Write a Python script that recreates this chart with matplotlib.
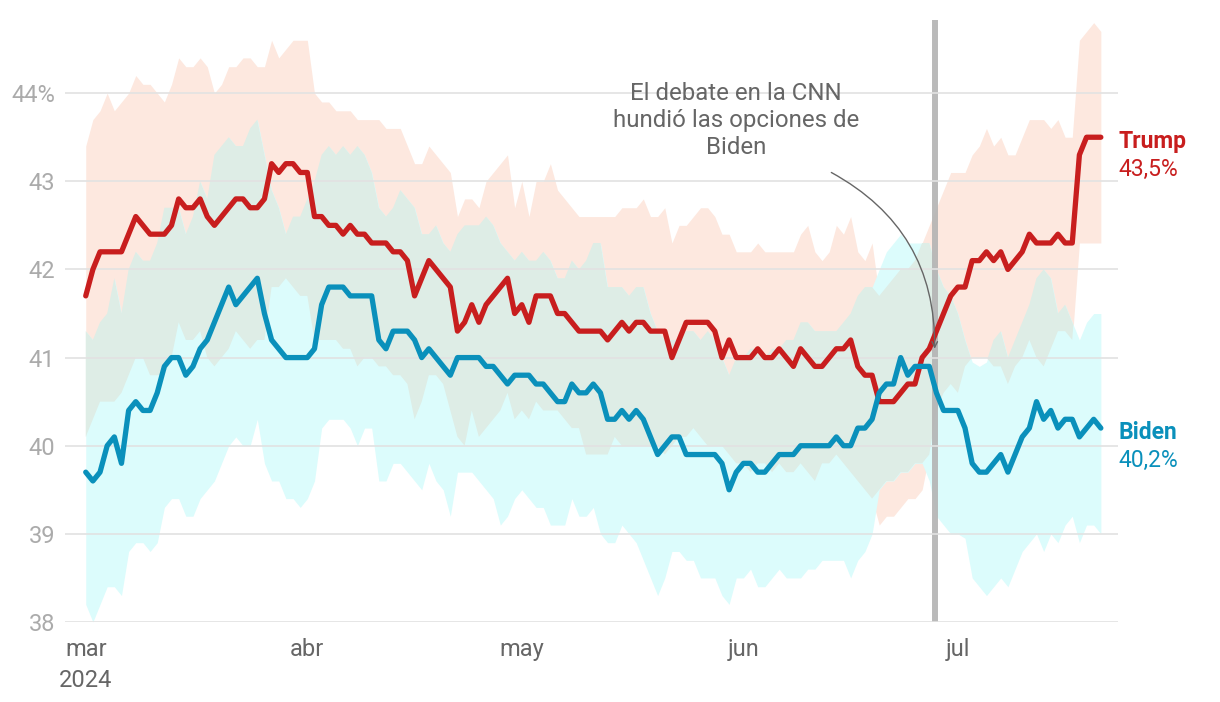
import pandas as pd
import numpy as np
import matplotlib
matplotlib.use('Agg')
import matplotlib.pyplot as plt

plt.rcParams['font.family'] = ['Roboto', 'DejaVu Sans']

# Daily polling average, 1 Mar - 21 Jul 2024
dates = pd.date_range('2024-03-01', '2024-07-21', freq='D')

trump = [41.7, 42.0, 42.2, 42.2, 42.2, 42.2, 42.4, 42.6, 42.5, 42.4,
         42.4, 42.4, 42.5, 42.8, 42.7, 42.7, 42.8, 42.6, 42.5, 42.6,
         42.7, 42.8, 42.8, 42.7, 42.7, 42.8, 43.2, 43.1, 43.2, 43.2,
         43.1, 43.1, 42.6, 42.6, 42.5, 42.5, 42.4, 42.5, 42.4, 42.4,
         42.3, 42.3, 42.3, 42.2, 42.2, 42.1, 41.7, 41.9, 42.1, 42.0,
         41.9, 41.8, 41.3, 41.4, 41.6, 41.4, 41.6, 41.7, 41.8, 41.9,
         41.5, 41.6, 41.4, 41.7, 41.7, 41.7, 41.5, 41.5, 41.4, 41.3,
         41.3, 41.3, 41.3, 41.2, 41.3, 41.4, 41.3, 41.4, 41.4, 41.3,
         41.3, 41.3, 41.0, 41.2, 41.4, 41.4, 41.4, 41.4, 41.3, 41.0,
         41.2, 41.0, 41.0, 41.0, 41.1, 41.0, 41.0, 41.1, 41.0, 40.9,
         41.1, 41.0, 40.9, 40.9, 41.0, 41.1, 41.1, 41.2, 40.9, 40.8,
         40.8, 40.5, 40.5, 40.5, 40.6, 40.7, 40.7, 41.0, 41.1, 41.3,
         41.5, 41.7, 41.8, 41.8, 42.1, 42.1, 42.2, 42.1, 42.2, 42.0,
         42.1, 42.2, 42.4, 42.3, 42.3, 42.3, 42.4, 42.3, 42.3, 43.3,
         43.5, 43.5, 43.5]

biden = [39.7, 39.6, 39.7, 40.0, 40.1, 39.8, 40.4, 40.5, 40.4, 40.4,
         40.6, 40.9, 41.0, 41.0, 40.8, 40.9, 41.1, 41.2, 41.4, 41.6,
         41.8, 41.6, 41.7, 41.8, 41.9, 41.5, 41.2, 41.1, 41.0, 41.0,
         41.0, 41.0, 41.1, 41.6, 41.8, 41.8, 41.8, 41.7, 41.7, 41.7,
         41.7, 41.2, 41.1, 41.3, 41.3, 41.3, 41.2, 41.0, 41.1, 41.0,
         40.9, 40.8, 41.0, 41.0, 41.0, 41.0, 40.9, 40.9, 40.8, 40.7,
         40.8, 40.8, 40.8, 40.7, 40.7, 40.6, 40.5, 40.5, 40.7, 40.6,
         40.6, 40.7, 40.6, 40.3, 40.3, 40.4, 40.3, 40.4, 40.3, 40.1,
         39.9, 40.0, 40.1, 40.1, 39.9, 39.9, 39.9, 39.9, 39.9, 39.8,
         39.5, 39.7, 39.8, 39.8, 39.7, 39.7, 39.8, 39.9, 39.9, 39.9,
         40.0, 40.0, 40.0, 40.0, 40.0, 40.1, 40.0, 40.0, 40.2, 40.2,
         40.3, 40.6, 40.7, 40.7, 41.0, 40.8, 40.9, 40.9, 40.9, 40.6,
         40.4, 40.4, 40.4, 40.2, 39.8, 39.7, 39.7, 39.8, 39.9, 39.7,
         39.9, 40.1, 40.2, 40.5, 40.3, 40.4, 40.2, 40.3, 40.3, 40.1,
         40.2, 40.3, 40.2]

trump_hi = [43.4, 43.7, 43.8, 44.0, 43.8, 43.9, 44.0, 44.2, 44.1, 44.1,
            44.0, 43.9, 44.1, 44.4, 44.3, 44.3, 44.4, 44.3, 44.0, 44.1,
            44.3, 44.3, 44.4, 44.4, 44.3, 44.3, 44.6, 44.4, 44.5, 44.6,
            44.6, 44.6, 44.0, 43.9, 43.9, 43.8, 43.8, 43.8, 43.7, 43.7,
            43.7, 43.7, 43.6, 43.6, 43.6, 43.4, 43.2, 43.2, 43.4, 43.3,
            43.2, 43.1, 42.6, 42.8, 42.8, 42.7, 43.0, 43.1, 43.2, 43.3,
            42.7, 43.0, 42.6, 43.0, 43.0, 43.2, 42.9, 42.8, 42.7, 42.6,
            42.6, 42.6, 42.6, 42.6, 42.6, 42.7, 42.7, 42.7, 42.8, 42.6,
            42.6, 42.7, 42.3, 42.5, 42.5, 42.6, 42.7, 42.7, 42.6, 42.4,
            42.4, 42.2, 42.2, 42.2, 42.3, 42.2, 42.2, 42.2, 42.2, 42.2,
            42.4, 42.5, 42.2, 42.1, 42.2, 42.5, 42.4, 42.6, 42.2, 42.1,
            42.3, 41.7, 41.8, 41.9, 42.0, 42.0, 42.1, 42.3, 42.5, 42.7,
            42.9, 43.1, 43.1, 43.1, 43.3, 43.4, 43.6, 43.4, 43.5, 43.3,
            43.3, 43.5, 43.7, 43.7, 43.7, 43.6, 43.7, 43.5, 43.5, 44.6,
            44.7, 44.8, 44.7]

trump_lo = [40.1, 40.3, 40.5, 40.5, 40.5, 40.6, 40.8, 41.0, 41.0, 40.8,
            40.8, 40.8, 41.0, 41.4, 41.2, 41.2, 41.3, 41.0, 40.9, 41.0,
            41.1, 41.3, 41.2, 41.1, 41.2, 41.2, 41.8, 41.8, 41.9, 41.8,
            41.7, 41.7, 41.2, 41.2, 41.2, 41.2, 41.1, 41.1, 40.9, 41.0,
            41.0, 40.9, 40.9, 40.8, 40.8, 40.7, 40.3, 40.5, 40.8, 40.8,
            40.7, 40.4, 40.1, 40.0, 40.4, 40.1, 40.2, 40.3, 40.4, 40.6,
            40.3, 40.4, 40.3, 40.5, 40.4, 40.4, 40.4, 40.3, 40.2, 40.2,
            39.9, 39.9, 39.9, 39.9, 40.1, 40.0, 40.0, 40.0, 40.0, 40.0,
            40.0, 39.9, 40.0, 40.1, 40.1, 40.2, 40.1, 40.0, 40.0, 40.0,
            39.9, 39.8, 39.8, 39.7, 39.8, 39.8, 39.7, 39.8, 39.7, 39.7,
            39.8, 39.7, 39.6, 39.8, 39.8, 39.9, 39.8, 39.7, 39.6, 39.5,
            39.4, 39.1, 39.2, 39.2, 39.3, 39.4, 39.4, 39.5, 39.9, 40.4,
            40.6, 40.7, 40.6, 40.9, 41.0, 41.0, 41.0, 40.9, 40.9, 40.7,
            40.9, 41.0, 41.2, 41.0, 40.9, 41.1, 41.3, 41.3, 41.2, 42.3,
            42.3, 42.3, 42.3]

biden_hi = [41.3, 41.2, 41.4, 41.5, 41.9, 41.5, 42.0, 42.2, 42.1, 42.1,
            42.3, 42.7, 42.7, 42.7, 42.4, 42.6, 43.0, 42.8, 43.3, 43.4,
            43.5, 43.4, 43.4, 43.6, 43.7, 43.3, 42.9, 42.7, 42.4, 42.6,
            42.6, 42.8, 43.0, 43.3, 43.4, 43.3, 43.4, 43.3, 43.4, 43.3,
            43.1, 42.7, 42.6, 42.7, 42.9, 42.8, 42.7, 42.4, 42.4, 42.5,
            42.3, 42.2, 42.4, 42.5, 42.5, 42.5, 42.6, 42.5, 42.3, 42.2,
            42.1, 42.2, 42.1, 42.1, 42.2, 42.1, 41.9, 41.9, 42.1, 42.0,
            42.1, 42.3, 42.3, 41.8, 41.8, 41.8, 41.7, 41.8, 41.8, 41.5,
            41.3, 41.2, 41.2, 41.2, 41.3, 41.3, 41.2, 41.3, 41.2, 41.0,
            40.8, 41.0, 41.0, 41.1, 41.1, 41.0, 41.1, 41.1, 41.2, 41.2,
            41.4, 41.4, 41.3, 41.3, 41.3, 41.3, 41.4, 41.5, 41.7, 41.8,
            41.8, 42.0, 42.2, 42.3, 42.4, 42.3, 42.3, 42.3, 42.3, 42.0,
            41.8, 41.7, 41.5, 41.2, 40.95, 40.9, 40.95, 41.2, 41.3, 41.0,
            41.2, 41.4, 41.6, 41.9, 42.0, 41.9, 41.5, 41.6, 41.4, 41.2,
            41.4, 41.5, 41.5]

biden_lo = [38.2, 38.0, 38.2, 38.4, 38.4, 38.3, 38.8, 38.9, 38.9, 38.8,
            38.9, 39.3, 39.4, 39.4, 39.2, 39.2, 39.4, 39.5, 39.6, 39.8,
            40.0, 40.1, 40.0, 40.0, 40.3, 39.8, 39.6, 39.6, 39.4, 39.4,
            39.3, 39.4, 39.6, 40.2, 40.3, 40.3, 40.3, 40.2, 40.0, 40.2,
            40.2, 39.6, 39.6, 39.8, 39.8, 39.7, 39.6, 39.5, 39.8, 39.6,
            39.5, 39.2, 39.7, 39.7, 39.7, 39.6, 39.5, 39.4, 39.1, 39.2,
            39.4, 39.5, 39.4, 39.3, 39.3, 39.1, 39.1, 39.1, 39.4, 39.2,
            39.2, 39.3, 39.0, 38.9, 38.9, 39.1, 39.0, 38.9, 38.7, 38.5,
            38.3, 38.5, 38.8, 38.8, 38.7, 38.7, 38.5, 38.5, 38.5, 38.3,
            38.2, 38.5, 38.5, 38.6, 38.4, 38.4, 38.5, 38.6, 38.5, 38.5,
            38.5, 38.6, 38.6, 38.7, 38.7, 38.7, 38.7, 38.5, 38.7, 38.8,
            39.0, 39.5, 39.6, 39.6, 39.7, 39.7, 39.8, 39.8, 39.6, 39.2,
            39.1, 39.0, 39.0, 38.95, 38.5, 38.4, 38.3, 38.4, 38.5, 38.4,
            38.6, 38.8, 38.9, 39.0, 38.8, 39.0, 38.9, 39.1, 39.2, 38.9,
            39.1, 39.1, 39.0]

debate_date = pd.Timestamp('2024-06-27 18:00')
month_ticks = pd.to_datetime(['2024-03-01', '2024-04-01', '2024-05-01',
                              '2024-06-01', '2024-07-01'])
month_labels = ['mar\n2024', 'abr', 'may', 'jun', 'jul']
y_ticks = [38, 39, 40, 41, 42, 43, 44]
y_labels = ['38', '39', '40', '41', '42', '43', '44%']

RED = '#c81e1e'
BLUE = '#0a90bb'
SALMON = '#fde8df'
CYAN = '#dcfcfc'
OVERLAP = '#deede6'

fig = plt.figure(figsize=(12.2, 7.02), dpi=100)
ax = fig.add_axes([65 / 1220, 1 - 622 / 702, (1118 - 65) / 1220, (622 - 20) / 702])

# uncertainty bands, overlap painted in its own tint
ax.fill_between(dates, trump_lo, trump_hi, color=SALMON, lw=0, zorder=1)
ax.fill_between(dates, biden_lo, biden_hi, color=CYAN, lw=0, zorder=1.1)
lo = np.maximum(trump_lo, biden_lo)
hi = np.minimum(trump_hi, biden_hi)
ax.fill_between(dates, lo, hi, where=hi > lo, interpolate=True,
                color=OVERLAP, lw=0, zorder=1.2)

ax.axvline(debate_date, color='#b3b3b3', lw=4.3, alpha=0.9, zorder=2)

ax.plot(dates, trump, color=RED, lw=3.8, solid_capstyle='round', zorder=4)
ax.plot(dates, biden, color=BLUE, lw=3.8, solid_capstyle='round', zorder=4)

ax.set_xlim(dates[0] - pd.Timedelta(days=2.9), dates[-1] + pd.Timedelta(days=2.4))
ax.set_ylim(38, 44.83)

ax.set_yticks(y_ticks)
ax.set_yticklabels(y_labels)
ax.set_xticks(month_ticks)
ax.set_xticklabels(month_labels, linespacing=1.45)
ax.tick_params(axis='y', length=0, pad=7, labelsize=17, labelcolor='#ababab')
ax.tick_params(axis='x', length=0, pad=11.5, labelsize=17, labelcolor='#666666')
ax.grid(axis='y', color='#e2e2e2', lw=1.2, zorder=3)
ax.set_axisbelow(False)
for s in ax.spines.values():
    s.set_visible(False)

# annotation about the debate
ax.text(pd.Timestamp('2024-05-31'), 43.69,
        'El debate en la CNN\nhundió las opciones de\nBiden',
        ha='center', va='center', fontsize=17.3, color='#666666',
        linespacing=1.2, zorder=5)
ax.annotate('', xy=(debate_date, 41.1),
            xytext=(dates[0] + pd.Timedelta(days=104.3), 43.1),
            arrowprops=dict(arrowstyle='->', color='#666666', lw=1.0,
                            shrinkA=0, shrinkB=0,
                            connectionstyle='arc3,rad=-0.3'),
            zorder=5)

# end labels
for name, vals, col in [('Trump', trump, RED), ('Biden', biden, BLUE)]:
    last = vals[-1]
    ax.annotate(name, xy=(dates[-1], last), xytext=(13, -3),
                textcoords='offset points', color=col, fontsize=16.5,
                fontweight='bold', va='center', annotation_clip=False)
    ax.annotate(f'{last:.1f}%'.replace('.', ','), xy=(dates[-1], last),
                xytext=(13, -23), textcoords='offset points', color=col,
                fontsize=16.5, va='center', annotation_clip=False)

fig.savefig('out.png', dpi=100)
